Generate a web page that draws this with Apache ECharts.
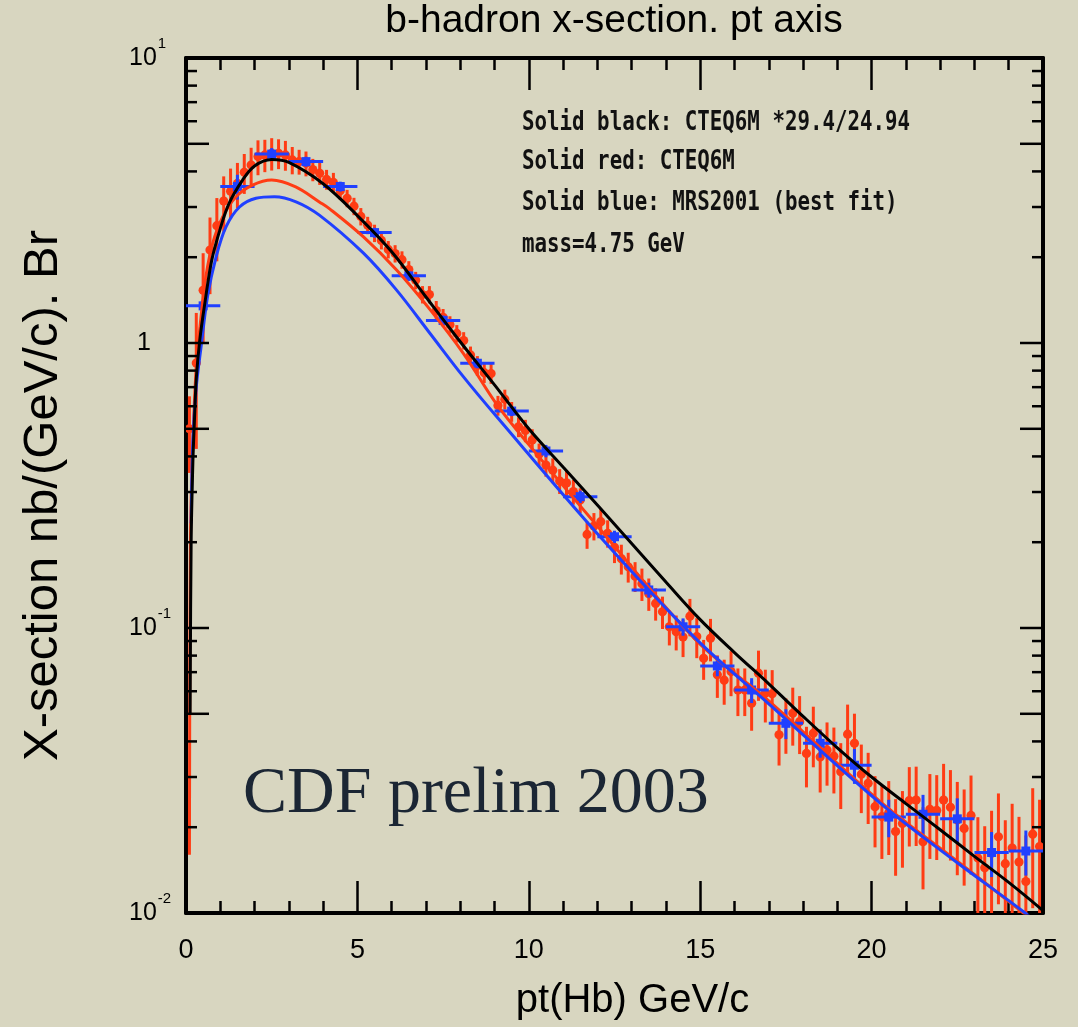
<!DOCTYPE html>
<html><head><meta charset="utf-8">
<script src="https://cdn.jsdelivr.net/npm/echarts@6/dist/echarts.min.js"></script>
<style>html,body{margin:0;padding:0;background:#d8d6c0;}#c{width:1078px;height:1027px;}</style>
</head><body><div id="c"></div>
<script>
// ---------- data ----------
const redPt = [0.1,0.3,0.5,0.7,0.9,1.1,1.3,1.5,1.7,1.9,2.1,2.3,2.5,2.7,2.9,3.1,3.3,3.5,3.7,3.9,
 4.1,4.3,4.5,4.7,4.9,5.1,5.3,5.5,5.7,5.9,6.1,6.3,6.5,6.7,6.9,7.1,7.3,7.5,7.7,7.9,
 8.1,8.3,8.5,8.7,8.9,9.1,9.3,9.5,9.7,9.9,10.1,10.3,10.5,10.7,10.9,11.1,11.3,11.5,11.7,11.9,
 12.1,12.3,12.5,12.7,12.9,13.1,13.3,13.5,13.7,13.9,14.1,14.3,14.5,14.7,14.9,15.1,15.3,15.5,15.7,15.9,
 16.1,16.3,16.5,16.7,16.9,17.1,17.3,17.5,17.7,17.9,18.1,18.3,18.5,18.7,18.9,19.1,19.3,19.5,19.7,19.9,
 20.1,20.3,20.5,20.7,20.9,21.1,21.3,21.5,21.7,21.9,22.1,22.3,22.5,22.7,22.9,23.1,23.3,23.5,23.7,23.9,
 24.1,24.3,24.5,24.7,24.9];
const redXsec = [0.50,0.85,1.53,2.12,2.58,3.15,3.41,3.63,3.97,4.21,4.51,4.57,4.63,4.63,4.57,4.39,4.33,4.27,4.06,3.94,
 3.75,3.66,3.42,3.22,3.02,2.78,2.59,2.43,2.29,2.13,2.06,1.96,1.81,1.66,1.48,1.48,1.30,1.23,1.16,1.08,
 1.02,0.908,0.833,0.787,0.781,0.604,0.635,0.575,0.508,0.493,0.457,0.407,0.373,0.358,0.328,0.323,0.301,0.281,0.213,0.228,
 0.236,0.215,0.192,0.175,0.164,0.152,0.143,0.132,0.122,0.114,0.101,0.097,0.093,0.110,0.0933,0.0783,0.092,0.0685,0.0656,0.0703,
 0.0606,0.0606,0.0545,0.0694,0.059,0.0588,0.0422,0.0464,0.0502,0.0469,0.0363,0.0427,0.0353,0.0373,0.0355,0.0313,0.0424,0.0394,0.0307,0.0285,
 0.0236,0.0218,0.0225,0.0193,0.0206,0.0248,0.0249,0.0178,0.0231,0.0229,0.0249,0.0235,0.0212,0.0198,0.0220,0.0156,0.0144,0.0162,0.0185,0.0149,
 0.0169,0.0151,0.0129,0.0189,0.0171];
// relative (symmetric) error on each red point
const redErr = [0.30,0.50,0.35,0.30,0.25,0.22,0.20,0.18,0.16,0.15,0.14,0.13,0.13,0.12,0.12,0.11,0.10,0.10,0.09,0.09,
 0.08,0.08,0.07,0.07,0.07,0.07,0.07,0.07,0.07,0.07,0.07,0.07,0.07,0.07,0.07,0.07,0.08,0.07,0.07,0.07,
 0.07,0.07,0.08,0.08,0.08,0.08,0.08,0.08,0.08,0.09,0.09,0.09,0.09,0.10,0.10,0.10,0.10,0.10,0.11,0.11,
 0.11,0.11,0.12,0.12,0.12,0.12,0.13,0.13,0.13,0.13,0.14,0.14,0.15,0.15,0.16,0.16,0.17,0.17,0.18,0.18,
 0.19,0.19,0.20,0.20,0.21,0.21,0.22,0.22,0.23,0.23,0.24,0.24,0.25,0.25,0.26,0.26,0.27,0.27,0.27,0.28,
 0.28,0.29,0.29,0.30,0.30,0.31,0.31,0.32,0.33,0.33,0.34,0.35,0.36,0.37,0.38,0.39,0.40,0.41,0.42,0.42,
 0.43,0.44,0.45,0.45,0.46];

const bluePt = [0.5,1.5,2.5,3.5,4.5,5.5,6.5,7.5,8.5,9.5,10.5,11.5,12.5,13.5,14.5,15.5,16.5,17.5,18.5,19.5,20.5,21.5,22.5,23.5,24.5];
const blueXsec = [1.35,3.54,4.60,4.33,3.54,2.44,1.72,1.20,0.849,0.577,0.418,0.289,0.209,0.136,0.101,0.0736,0.0606,0.0463,0.0394,0.033,0.0217,0.0222,0.0214,0.0163,0.0165];
const blueErr = [0.05,0.10,0.05,0.04,0.04,0.04,0.04,0.04,0.04,0.04,0.05,0.05,0.05,0.06,0.07,0.08,0.10,0.12,0.11,0.14,0.15,0.17,0.18,0.18,0.18];
const blueHalfWidth = 0.5;

// theory curves
const blackPt   = [0.12,0.15,0.2,0.25,0.3,0.4,0.55,0.75,1.0,1.25,1.65,2.0,2.5,3.0,4.0,5.0,6,7,8,9,10,11,12,13,14,15,16,17,18,19,20,21,22,23,24,25];
const blackXsec = [0.05,0.2,0.38,0.55,0.75,1.02,1.38,1.95,2.52,3.08,3.73,4.18,4.40,4.30,3.62,2.80,2.09,1.45,1.01,0.713,0.50,0.367,0.27,0.198,0.145,0.107,0.082,0.0637,0.049,0.038,0.030,0.0242,0.0196,0.0158,0.0128,0.0102];
const redCurvePt   = [0.1,0.13,0.2,0.3,0.44,0.58,0.78,1.07,1.46,1.94,2.5,3.2,3.9,4.2,5.17,6.15,7.12,8.09,9.06,10.0,12.08,14.9,17.0,20.25,22.5,24.43,25];
const redCurveXsec = [0.016,0.2,0.45,0.82,1.24,1.71,2.24,2.77,3.26,3.58,3.73,3.53,3.12,2.95,2.36,1.80,1.31,0.92,0.61,0.44,0.222,0.090,0.0555,0.0246,0.0152,0.0100,0.0088];
const blueCurvePt   = [0.15,0.2,0.3,0.44,0.63,0.88,1.17,1.56,2.04,2.58,3.21,3.89,5.17,6.15,7.12,8.09,9.06,12.08,14.9,17.0,20.25,22.5,24.48,25];
const blueCurveXsec = [0.233,0.45,0.70,0.97,1.46,2.01,2.56,3.0,3.22,3.26,3.13,2.81,2.07,1.53,1.08,0.762,0.552,0.209,0.091,0.0542,0.0243,0.0150,0.0100,0.0088];

const xTicks = [0,5,10,15,20,25];
const annotation = ['Solid black: CTEQ6M *29.4/24.94','Solid red: CTEQ6M','Solid blue: MRS2001 (best fit)','mass=4.75 GeV'];
const annotationY = [123,162,203,245];
const titleText = 'b-hadron x-section. pt axis';
const xName = 'pt(Hb) GeV/c';
const yName = 'X-section nb/(GeV/c). Br';
const stamp = 'CDF prelim 2003';

// ---------- build ----------
const RED = '#ff3c14', BLUE = '#2040ff', BLACK = '#000';
const zip = (a,b) => a.map((v,i)=>[v,b[i]]);
const redData = redPt.map((x,i)=>[x, redXsec[i], redXsec[i]*(1-redErr[i]), redXsec[i]*(1+redErr[i])]);
const blueData = bluePt.map((x,i)=>[x, blueXsec[i], blueXsec[i]*(1-blueErr[i]), blueXsec[i]*(1+blueErr[i])]);

// minor ticks of the log axis (2..9 in each decade, long at 1 and 5)
const yTickData = [];
[0.01,0.1,1].forEach(d=>{ for(let m=1;m<=9;m++){ if(d===0.01&&m===1) continue; yTickData.push([0, m*d, (m===1||m===5)?1:0]); } });

const chart = echarts.init(document.getElementById('c'), null, {renderer:'canvas'});
const FONT = 'Liberation Sans, Arial, sans-serif';
const axisLine = {show:true, onZero:false, lineStyle:{color:'#000', width:4}};

function supLabel(v){
  const e = Math.round(Math.log10(v));
  if (e===0) return '{one|1}';
  return '{b|10}{s|' + e + '}';
}

chart.setOption({
  backgroundColor:'#d8d6c0',
  animation:false,
  grid:{left:186, right:35, top:58, bottom:114},
  xAxis:[
    {type:'value', min:0, max:25, interval:5, position:'bottom', axisLine,
     axisTick:{show:true, inside:true, length:32, lineStyle:{color:'#000', width:2.5}},
     minorTick:{show:true, splitNumber:5, length:12, lineStyle:{color:'#000', width:2.5}},
     splitLine:{show:false},
     axisLabel:{color:'#000', fontFamily:FONT, fontSize:27, margin:24,
       formatter:v=> xTicks.includes(v) ? String(v) : ''},
     name:xName, nameLocation:'middle', nameGap:68,
     nameTextStyle:{color:'#000', fontFamily:FONT, fontSize:40, padding:[0,0,0,36]}},
    {type:'value', min:0, max:25, interval:5, position:'top', axisLine,
     axisTick:{show:true, inside:true, length:32, lineStyle:{color:'#000', width:2.5}},
     minorTick:{show:true, splitNumber:5, length:12, lineStyle:{color:'#000', width:2.5}},
     splitLine:{show:false}, axisLabel:{show:false}}
  ],
  yAxis:[
    {type:'log', logBase:10, min:0.01, max:10, position:'left', axisLine,
     axisTick:{show:false}, splitLine:{show:false}, minorTick:{show:false},
     axisLabel:{color:'#000', fontFamily:FONT, margin:57, align:'left', formatter:supLabel,
       rich:{ b:{fontSize:25, fontFamily:FONT, color:'#000'},
              s:{fontSize:15, fontFamily:FONT, color:'#000', verticalAlign:'top', padding:[0,0,28,1]},
              one:{fontSize:25, fontFamily:FONT, color:'#000', padding:[0,0,0,8]} }},
     name:yName, nameLocation:'middle', nameGap:118, nameRotate:90,
     nameTextStyle:{color:'#000', fontFamily:FONT, fontSize:49, padding:[0,20,0,0]}},
    {type:'log', logBase:10, min:0.01, max:10, position:'right', axisLine,
     axisTick:{show:false}, splitLine:{show:false}, axisLabel:{show:false}}
  ],
  graphic:[
    {type:'text', x:614, y:21, style:{text:titleText, font:'39px '+FONT, fill:'#000', textAlign:'center', textVerticalAlign:'middle'}},
    ...annotation.map((t,i)=>({type:'text', x:522, y:annotationY[i], scaleX:1, scaleY:1.28,
        style:{text:t, font:'bold 20.8px "DejaVu Sans Mono", monospace', fill:'#111', textAlign:'left', textVerticalAlign:'middle'}})),
    {type:'text', x:243, y:795, style:{text:stamp, font:'66px "Liberation Serif", serif', fill:'#1b2634', textAlign:'left', textVerticalAlign:'middle'}}
  ],
  series:[
    {type:'custom', name:'yticks', silent:true, xAxisIndex:0, yAxisIndex:0, z:10, data:yTickData,
     renderItem:(p,api)=>{
       const v = api.value(1), long = api.value(2);
       const L = api.coord([0,v]), R = api.coord([25,v]);
       const len = long ? 23 : 11;
       return {type:'group', children:[
         {type:'line', shape:{x1:L[0], y1:L[1], x2:L[0]+len, y2:L[1]}, style:{stroke:'#000', lineWidth:2.5}},
         {type:'line', shape:{x1:R[0], y1:R[1], x2:R[0]-len, y2:R[1]}, style:{stroke:'#000', lineWidth:2.5}}
       ]};
     }},
    {type:'custom', name:'red data', clip:true, z:2, data:redData,
     renderItem:(p,api)=>{
       const x=api.value(0), y=api.value(1), lo=api.value(2), hi=api.value(3);
       const c=api.coord([x,y]), a=api.coord([x,lo]), b=api.coord([x,hi]);
       return {type:'group', children:[
         {type:'line', shape:{x1:a[0],y1:a[1],x2:b[0],y2:b[1]}, style:{stroke:RED, lineWidth:3}},
         {type:'circle', shape:{cx:c[0], cy:c[1], r:4.6}, style:{fill:RED}}
       ]};
     }},
    {type:'custom', name:'blue data', clip:true, z:3, data:blueData,
     renderItem:(p,api)=>{
       const x=api.value(0), y=api.value(1), lo=api.value(2), hi=api.value(3);
       const c=api.coord([x,y]), a=api.coord([x,lo]), b=api.coord([x,hi]);
       const l=api.coord([x-blueHalfWidth,y]), r=api.coord([x+blueHalfWidth,y]);
       return {type:'group', children:[
         {type:'line', shape:{x1:l[0],y1:l[1],x2:r[0],y2:r[1]}, style:{stroke:BLUE, lineWidth:3}},
         {type:'line', shape:{x1:a[0],y1:a[1],x2:b[0],y2:b[1]}, style:{stroke:BLUE, lineWidth:3}},
         {type:'rect', shape:{x:c[0]-4.5, y:c[1]-4.5, width:9, height:9}, style:{fill:BLUE}}
       ]};
     }},
    {type:'line', name:'CTEQ6M', data:zip(redCurvePt, redCurveXsec), showSymbol:false, smooth:0.35, clip:true, z:4,
     lineStyle:{color:RED, width:3}},
    {type:'line', name:'MRS2001', data:zip(blueCurvePt, blueCurveXsec), showSymbol:false, smooth:0.35, clip:true, z:5,
     lineStyle:{color:BLUE, width:3}},
    {type:'line', name:'CTEQ6M scaled', data:zip(blackPt, blackXsec), showSymbol:false, smooth:0.35, clip:true, z:6,
     lineStyle:{color:BLACK, width:3}}
  ]
});
</script></body></html>
